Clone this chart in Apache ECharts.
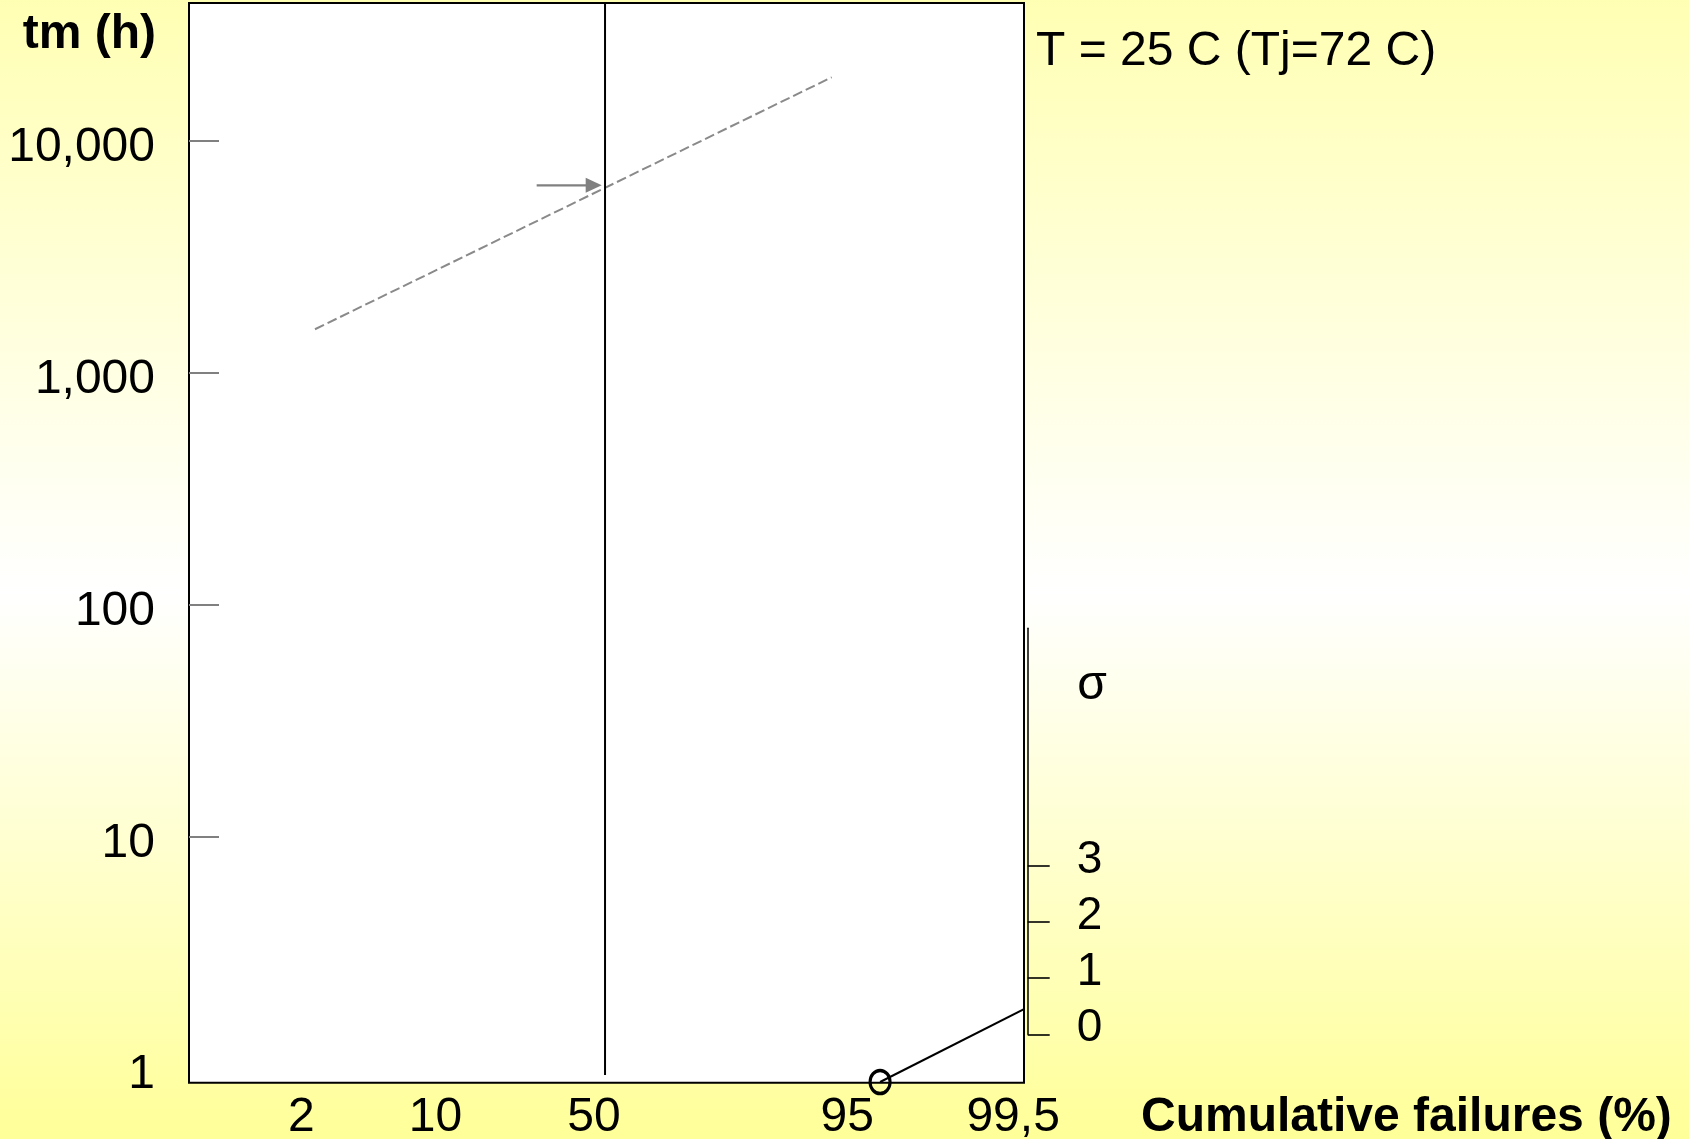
<!DOCTYPE html>
<html><head><meta charset="utf-8">
<script src="https://cdn.jsdelivr.net/npm/echarts@6/dist/echarts.min.js"></script>
<style>html,body{margin:0;padding:0;width:1689px;height:1139px;overflow:hidden;background:#fff}#c{width:1689px;height:1139px}</style>
</head><body><div id="c"></div>
<script>
// X axis in normal-quantile (probit) units; label positions
const xTickValues = [-2.066, -1.154, -0.075, 1.648, 2.776];
const xTickLabels = ['2', '10', '50', '95', '99,5'];
const xRange = [-2.83, 2.85];
// Y axis: median life tm (h), log scale
const yTickValues = [1, 10, 100, 1000, 10000];
const yRange = [0.866, 39200];
// sigma scale
const sigmaTicks = [0, 1, 2, 3];
const sigmaRange = [0, 7.24];
// lognormal fit line (z, hours)
const fitLine = [[-1.973, 1536], [1.542, 18750]];
// arrow pointing at the median (50%) life
const medianArrow = [[-0.465, 6415], [-0.077, 6415]];
// vertical 50 % line
const medianLine = [[0, 0.935], [0, 39200]];
// sigma construction line (from pole point to sigma scale)
const sigmaLine = [[1.871, 0.872], [2.8755, 1.83]];
const polePoint = [[1.871, 0.872]];

const FONT = 'Liberation Sans, Arial, sans-serif';
const chart = echarts.init(document.getElementById('c'), null, {renderer: 'canvas'});

function nearestLabel(v) {
  let best = 0, d = Infinity;
  xTickValues.forEach((t, i) => { const dd = Math.abs(t - v); if (dd < d) { d = dd; best = i; } });
  return xTickLabels[best];
}

chart.setOption({
  animation: false,
  backgroundColor: {
    type: 'linear', x: 0, y: 0, x2: 0, y2: 1,
    colorStops: [
      {offset: 0, color: '#ffffb4'},
      {offset: 0.52, color: '#ffffff'},
      {offset: 1, color: '#ffff99'}
    ]
  },
  textStyle: {fontFamily: FONT, color: '#000'},
  grid: [
    {left: 189, top: 3, width: 835, height: 1079.7, show: true, backgroundColor: '#fff',
     borderColor: '#000', borderWidth: 2, containLabel: false, outerBoundsMode: 'none'},
    {left: 1026.7, top: 628.3, width: 1, height: 406, show: false, containLabel: false, outerBoundsMode: 'none'}
  ],
  xAxis: [
    {
      type: 'value', gridIndex: 0, min: xRange[0], max: xRange[1],
      axisLine: {show: false, onZero: false}, axisTick: {show: false}, splitLine: {show: false},
      axisLabel: {
        customValues: xTickValues, formatter: v => nearestLabel(v),
        fontSize: 48, color: '#000', fontFamily: FONT, margin: 35.5, verticalAlign: 'middle'
      }
    },
    {type: 'value', gridIndex: 1, show: false, min: 0, max: 1}
  ],
  yAxis: [
    {
      type: 'log', gridIndex: 0, min: yRange[0], max: yRange[1], logBase: 10,
      axisLine: {show: false, onZero: false}, splitLine: {show: false},
      axisTick: {show: true, inside: true, length: 30, customValues: yTickValues.slice(1),
        lineStyle: {color: '#808080', width: 2}},
      axisLabel: {
        customValues: yTickValues, fontSize: 48, color: '#000', fontFamily: FONT, margin: 34,
        verticalAlign: 'top', lineHeight: 14,
        formatter: v => Math.round(v).toLocaleString('en-US')
      }
    },
    {
      type: 'value', gridIndex: 1, position: 'right', min: sigmaRange[0], max: sigmaRange[1],
      axisLine: {show: true, onZero: false, lineStyle: {color: '#111', width: 1.6}},
      splitLine: {show: false},
      axisTick: {show: true, inside: false, length: 22, customValues: sigmaTicks,
        lineStyle: {color: '#000', width: 1.6}},
      axisLabel: {customValues: sigmaTicks, fontSize: 46, color: '#000', fontFamily: FONT,
        margin: 49, verticalAlign: 'bottom', lineHeight: 12}
    }
  ],
  series: [
    {
      type: 'line', xAxisIndex: 0, yAxisIndex: 0, data: fitLine, symbol: 'none', silent: true,
      lineStyle: {color: '#8a8a8a', width: 2, type: [10, 4]}, z: 3
    },
    {
      type: 'line', xAxisIndex: 0, yAxisIndex: 0, silent: true, z: 4,
      data: [
        {value: medianArrow[0], symbol: 'none'},
        {value: medianArrow[1], symbol: 'triangle', symbolSize: [15, 16], symbolRotate: -90}
      ],
      showAllSymbol: true,
      itemStyle: {color: '#808080'},
      lineStyle: {color: '#808080', width: 2.2}
    },
    {
      type: 'line', xAxisIndex: 0, yAxisIndex: 0, data: medianLine, symbol: 'none', silent: true,
      lineStyle: {color: '#000', width: 2}, z: 3
    },
    {
      type: 'line', xAxisIndex: 0, yAxisIndex: 0, silent: true, clip: false, z: 5,
      data: sigmaLine, symbol: 'none',
      lineStyle: {color: '#000', width: 2}
    },
    {
      type: 'scatter', xAxisIndex: 0, yAxisIndex: 0, silent: true, clip: false, z: 6,
      data: polePoint, symbol: 'circle', symbolSize: [20, 23],
      itemStyle: {color: 'rgba(0,0,0,0)', borderColor: '#000', borderWidth: 3.3, opacity: 1}
    }
  ],
  graphic: [
    {type: 'text', x: 156, y: 35, silent: true,
     style: {text: 'tm (h)', fontSize: 48, fontWeight: 'bold', fontFamily: FONT, fill: '#000',
       align: 'right', verticalAlign: 'middle'}},
    {type: 'text', x: 1141, y: 1118, silent: true,
     style: {text: 'Cumulative failures (%)', fontSize: 48, fontWeight: 'bold', fontFamily: FONT, fill: '#000',
       align: 'left', verticalAlign: 'middle'}},
    {type: 'text', x: 1036, y: 52, silent: true,
     style: {text: 'T = 25 C (Tj=72 C)', fontSize: 48, fontFamily: FONT, fill: '#000',
       align: 'left', verticalAlign: 'middle'}},
    {type: 'text', x: 1092, y: 685.5, silent: true,
     style: {text: 'σ', fontSize: 48, fontFamily: FONT, fill: '#000',
       align: 'center', verticalAlign: 'middle'}}
  ]
});
</script></body></html>
